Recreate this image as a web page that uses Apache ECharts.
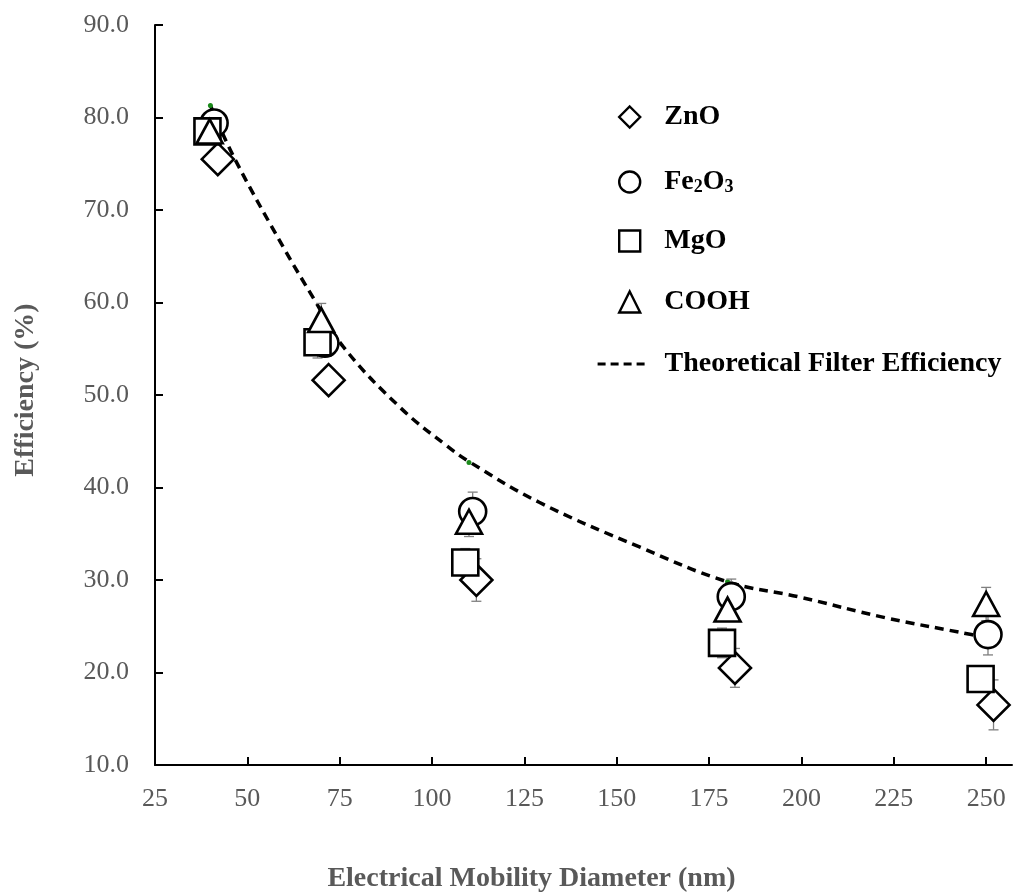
<!DOCTYPE html>
<html>
<head>
<meta charset="utf-8">
<script src="https://cdn.jsdelivr.net/npm/echarts@6/dist/echarts.min.js"></script>
<style>
  html, body { margin: 0; padding: 0; background: #fff; }
  #chart-panel { width: 1014px; height: 896px; }
</style>
</head>
<body>
<div id="chart-panel"></div>
<script>
var font = 'Liberation Serif';

// measured points (x = diameter nm, y = efficiency %, err = +/-)
var znoX = [42, 72, 112, 182, 252];
var znoY = [75.5, 51.6, 30.0, 20.5, 16.5];
var znoErr = [0.8, 1.0, 2.3, 2.1, 2.7];

var feX = [41, 71, 111, 181, 250.5];
var feY = [79.4, 55.6, 37.4, 28.2, 24.1];
var feErr = [1.0, 1.0, 2.1, 1.9, 2.2];

var mgoX = [39.2, 69, 109, 178.5, 248.5];
var mgoY = [78.5, 55.7, 31.9, 23.2, 19.3];
var mgoErr = [0.8, 1.7, 1.5, 1.6, 0.8];

var coohX = [39.8, 70, 110, 180, 250];
var coohY = [78.5, 58.1, 36.3, 26.8, 27.4];
var coohErr = [0.8, 1.8, 1.6, 0.8, 1.8];

// theoretical curve
var theoryX = [40, 46.5, 60, 68, 76, 91.5, 104, 110, 129, 156, 180, 199, 223, 246, 248];
var theoryY = [81.3, 75.6, 65.8, 60.4, 55.2, 48.6, 44.5, 42.8, 38.4, 33.6, 29.8, 28.2, 25.9, 24.1, 23.9];
var theoryPtX = [40, 110, 180];
var theoryPtY = [81.3, 42.7, 29.8];

var legendNames = ['ZnO', 'Fe2O3', 'MgO', 'COOH', 'Theoretical Filter Efficiency'];

function pairs(xs, ys) {
  return xs.map(function (x, i) { return [x, ys[i]]; });
}
function errData(xs, ys, es) {
  return xs.map(function (x, i) { return [x, ys[i] - es[i], ys[i] + es[i]]; });
}

var allErr = [].concat(
  errData(znoX, znoY, znoErr),
  errData(feX, feY, feErr),
  errData(mgoX, mgoY, mgoErr),
  errData(coohX, coohY, coohErr)
);

var chart = document.getElementById('chart-panel');
var myChart = echarts.init(chart);

var markerStyle = {
  color: '#fff',
  borderColor: '#000',
  borderWidth: 2.6,
  opacity: 1
};

var legendTops = [112, 176, 236, 297, 359];
var legends = legendNames.map(function (n, i) {
  var isLine = i === 4;
  var lg = {
    data: [n],
    left: isLine ? 591 : 613,
    top: legendTops[i] - 14,
    itemWidth: isLine ? 48 : 21,
    itemHeight: 21,
    selectedMode: false,
    formatter: function (name) {
      return name === 'Fe2O3' ? 'Fe{s|2}O{s|3}' : name;
    },
    textStyle: {
      fontFamily: font,
      fontWeight: 'bold',
      fontSize: 28,
      color: '#000',
      lineHeight: 28,
      padding: [0, 0, 0, isLine ? 14 : 19],
      rich: {
        s: {
          fontFamily: font,
          fontWeight: 'bold',
          fontSize: 18,
          color: '#000',
          lineHeight: 28,
          verticalAlign: 'bottom',
          padding: [11, 0, 0, 0]
        }
      }
    }
  };
  if (isLine) {
    lg.itemStyle = { color: 'rgba(0,0,0,0)', borderWidth: 0, opacity: 0 };
    lg.lineStyle = { color: '#000', width: 3.2, type: [8, 5] };
  } else {
    lg.itemStyle = { color: '#fff', borderColor: '#000', borderWidth: 2.4 };
  }
  return lg;
});

var option = {
  animation: false,
  backgroundColor: '#fff',
  grid: {
    left: 155,
    top: 25,
    right: 2,
    bottom: 131,
    outerBoundsMode: 'none'
  },
  legend: legends,
  xAxis: {
    type: 'value',
    min: 25,
    max: 257,
    interval: 25,
    name: 'Electrical Mobility Diameter (nm)',
    nameLocation: 'middle',
    nameGap: 100,
    nameTextStyle: {
      fontFamily: font,
      fontWeight: 'bold',
      fontSize: 28,
      color: '#595959',
      padding: [0, 104, 0, 0]
    },
    splitLine: { show: false },
    axisLine: { lineStyle: { color: '#000', width: 2 } },
    axisTick: { inside: true, length: 8, lineStyle: { color: '#000', width: 2 } },
    axisLabel: {
      margin: 21,
      fontFamily: font,
      fontSize: 26,
      color: '#595959',
      showMaxLabel: false,
      formatter: function (v) { return v % 25 === 0 ? String(v) : ''; }
    }
  },
  yAxis: {
    type: 'value',
    min: 10,
    max: 90,
    interval: 10,
    name: 'Efficiency (%)',
    nameLocation: 'middle',
    nameGap: 115,
    nameTextStyle: {
      fontFamily: font,
      fontWeight: 'bold',
      fontSize: 28,
      color: '#595959',
      padding: [0, 0, 0, 10]
    },
    splitLine: { show: false },
    axisLine: { show: true, lineStyle: { color: '#000', width: 2 } },
    axisTick: { show: true, inside: true, length: 8, lineStyle: { color: '#000', width: 2 } },
    axisLabel: {
      margin: 26,
      fontFamily: font,
      fontSize: 26,
      color: '#595959',
      formatter: function (v) { return v.toFixed(1); }
    }
  },
  series: [
    {
      name: 'Theoretical Filter Efficiency',
      type: 'line',
      data: pairs(theoryX, theoryY),
      smooth: 0.4,
      symbol: 'none',
      z: 1,
      lineStyle: { color: '#000', width: 3.5, type: [9, 6] },
      itemStyle: { color: '#000' }
    },
    {
      name: 'theory points',
      type: 'scatter',
      data: pairs(theoryPtX, theoryPtY),
      symbol: 'circle',
      symbolSize: 5,
      z: 1,
      itemStyle: { color: '#1a8a1a', opacity: 1 }
    },
    {
      name: 'error bars',
      type: 'custom',
      data: allErr,
      z: 2,
      encode: { x: 0, y: [1, 2] },
      renderItem: function (params, api) {
        var x = api.value(0);
        var lo = api.coord([x, api.value(1)]);
        var hi = api.coord([x, api.value(2)]);
        var c = 5;
        var st = { stroke: '#7f7f7f', lineWidth: 1.3 };
        return {
          type: 'group',
          children: [
            { type: 'line', shape: { x1: lo[0], y1: lo[1], x2: hi[0], y2: hi[1] }, style: st },
            { type: 'line', shape: { x1: lo[0] - c, y1: lo[1], x2: lo[0] + c, y2: lo[1] }, style: st },
            { type: 'line', shape: { x1: hi[0] - c, y1: hi[1], x2: hi[0] + c, y2: hi[1] }, style: st }
          ]
        };
      }
    },
    {
      name: 'ZnO',
      type: 'scatter',
      data: pairs(znoX, znoY),
      symbol: 'diamond',
      symbolSize: 32,
      z: 3,
      itemStyle: markerStyle
    },
    {
      name: 'Fe2O3',
      type: 'scatter',
      data: pairs(feX, feY),
      symbol: 'circle',
      symbolSize: 27,
      z: 4,
      itemStyle: markerStyle
    },
    {
      name: 'MgO',
      type: 'scatter',
      data: pairs(mgoX, mgoY),
      symbol: 'rect',
      symbolSize: 26,
      z: 5,
      itemStyle: markerStyle
    },
    {
      name: 'COOH',
      type: 'scatter',
      data: pairs(coohX, coohY),
      symbol: 'triangle',
      symbolSize: [26, 24],
      z: 6,
      itemStyle: markerStyle
    }
  ]
};

myChart.setOption(option);
</script>
</body>
</html>
